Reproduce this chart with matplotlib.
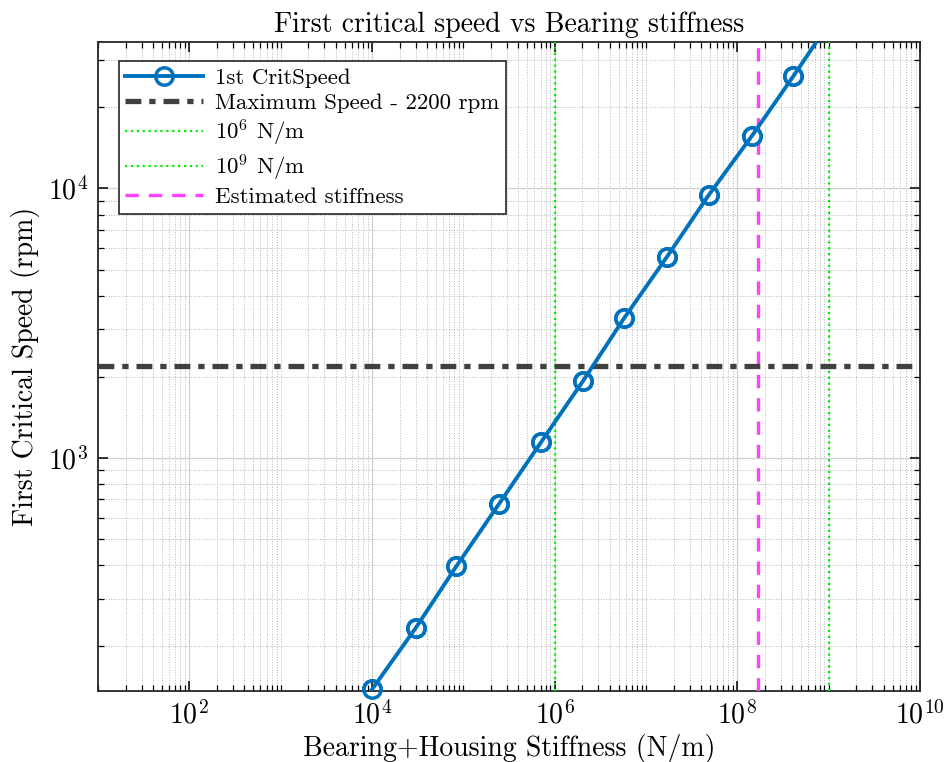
import matplotlib
matplotlib.use("Agg")
import matplotlib.pyplot as plt
from matplotlib.ticker import FixedLocator, NullFormatter, LogFormatterSciNotation

plt.rcParams['font.family'] = ['cmr10', 'DejaVu Serif']
plt.rcParams['mathtext.fontset'] = 'cm'
plt.rcParams['axes.formatter.use_mathtext'] = True

# stiffness (N/m) and first critical speed (rpm)
stiffness = [1.0e4, 3.0e4, 8.4e4, 2.45e5, 7.1e5, 2.05e6, 5.8e6, 1.7e7, 4.9e7, 1.45e8, 4.1e8]
crit_speed = [138, 233, 396, 673, 1143, 1932, 3311, 5580, 9490, 15700, 26100]
# line continues past the last marker up to 1e9
line_end_x = 1.0e9
line_end_y = 40900

max_speed = 2200
stiff_low = 1e6
stiff_high = 1e9
stiff_est = 1.7e8

x_major = [1e2, 1e4, 1e6, 1e8, 1e10]
y_major = [1e3, 1e4]

blue = '#0072BD'

fig = plt.figure(figsize=(9.47, 7.62), dpi=100)
ax = fig.add_axes([0.1035, 0.093, 0.868, 0.852])

xs = stiffness + [line_end_x]
ys = crit_speed + [line_end_y]
ax.plot(xs, ys, '-', color=blue, lw=2.8, marker='o', markersize=12.5, mfc='none',
        mew=2.5, markevery=list(range(len(stiffness))), label='1st CritSpeed', zorder=5)
# markers drawn again without clipping (bottom one sits on the axis)
ax.plot(stiffness, crit_speed, 'o', color=blue, markersize=12.5, mfc='none', mew=2.5,
        clip_on=False, zorder=6)

ax.axhline(max_speed, color='#404040', lw=3.8, dashes=(3.0, 1.5, 1.2, 1.5),
           label='Maximum Speed - 2200 rpm', zorder=4)
ax.axvline(stiff_low, color='#00EE00', lw=1.6, ls=':', label=r'$10^6$ N/m', zorder=3)
ax.axvline(stiff_high, color='#00EE00', lw=1.6, ls=':', label=r'$10^9$ N/m', zorder=3)
ax.axvline(stiff_est, color='#FF40FF', lw=2.4, dashes=(4, 3), label='Estimated stiffness', zorder=3)

ax.set_xscale('log')
ax.set_yscale('log')
ax.set_xlim(10, 1e10)
ax.set_ylim(136, 35000)

x_minor = [m * 10.0 ** e for e in range(1, 10) for m in range(1, 10)
           if 10 <= m * 10.0 ** e <= 1e10 and m * 10.0 ** e not in x_major]
y_minor = [m * 10.0 ** e for e in range(2, 5) for m in range(2, 10)
           if 136 <= m * 10.0 ** e <= 35000]
ax.xaxis.set_major_locator(FixedLocator(x_major))
ax.xaxis.set_major_formatter(LogFormatterSciNotation())
ax.xaxis.set_minor_locator(FixedLocator(x_minor))
ax.xaxis.set_minor_formatter(NullFormatter())
ax.yaxis.set_major_locator(FixedLocator(y_major))
ax.yaxis.set_major_formatter(LogFormatterSciNotation())
ax.yaxis.set_minor_locator(FixedLocator(y_minor))
ax.yaxis.set_minor_formatter(NullFormatter())

ax.grid(True, which='major', color='#d0d0d0', lw=0.9, ls='-')
ax.grid(True, which='minor', color='#b5b5b5', lw=0.7, ls=':')
ax.tick_params(which='both', direction='in', top=True, right=True, labelsize=20, pad=7)
ax.tick_params(which='major', length=7, width=1.1)
ax.tick_params(which='minor', length=4, width=0.9)
for s in ax.spines.values():
    s.set_linewidth(1.3)
    s.set_color('#262626')

ax.set_title('First critical speed vs Bearing stiffness', fontsize=20, pad=7)
ax.set_xlabel('Bearing+Housing Stiffness (N/m)', fontsize=20, labelpad=3)
ax.set_ylabel('First Critical Speed (rpm)', fontsize=20, labelpad=6)

leg = ax.legend(loc='upper left', bbox_to_anchor=(0.025, 0.97), fontsize=16.5, fancybox=False,
                framealpha=1, edgecolor='#262626', borderpad=0.3, labelspacing=0.2,
                handlelength=3.4, handletextpad=0.5, borderaxespad=0)
leg.get_frame().set_linewidth(1.2)

fig.savefig('out.png', dpi=100)
